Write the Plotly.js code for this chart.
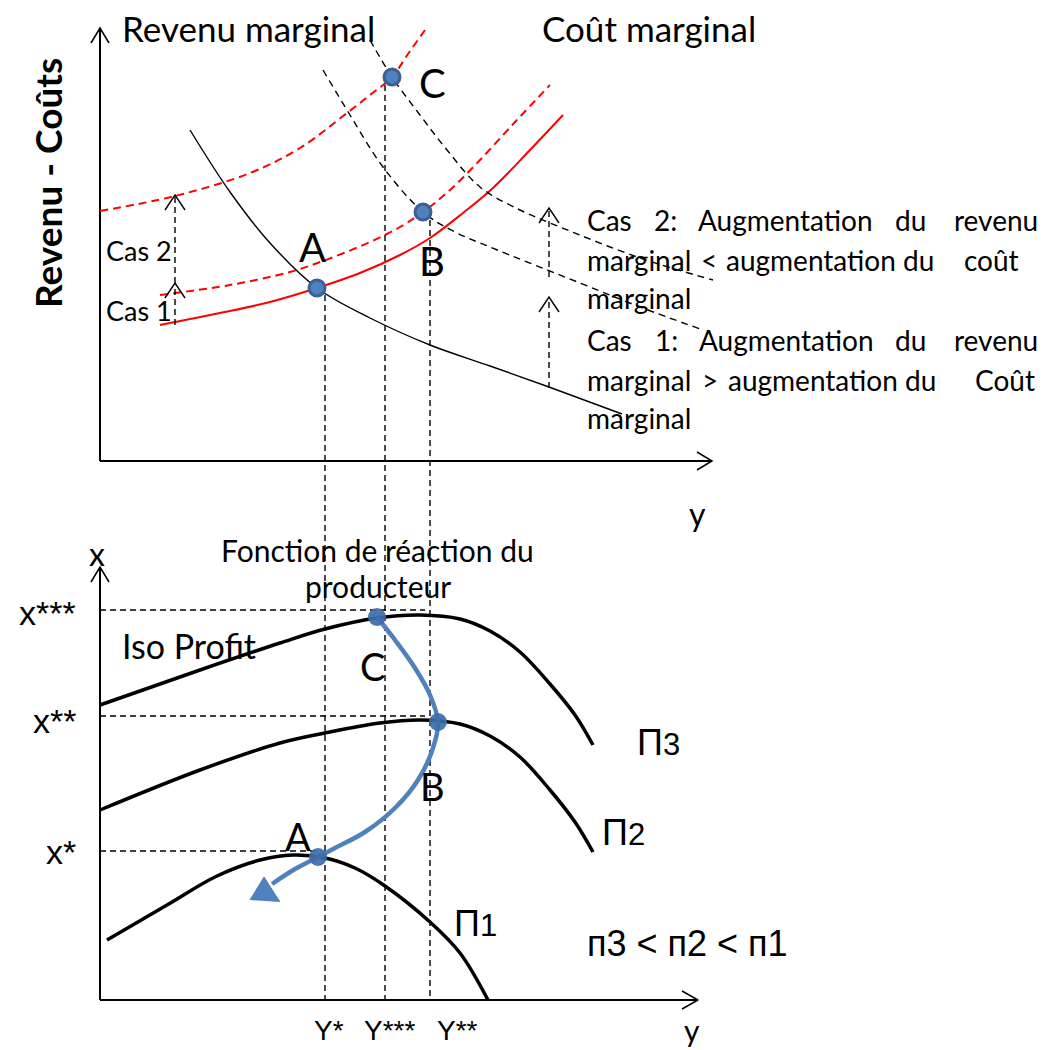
<!DOCTYPE html>
<html><head><meta charset="utf-8">
<script src="https://cdn.plot.ly/plotly-3.0.1.min.js"></script>
<style>html,body{margin:0;padding:0;background:#fff}#chart{width:1043px;height:1050px}</style>
</head><body><div id="chart"></div>
<script>
// ===== TOP PANEL : Revenu - Coûts (units measured from the axes corner) =====
const revMargX   = [90,130,170,217,270,330,390,449,522];
const revMargY   = [331,269,218,173,143,116,95,74,47];
const coutMargX  = [60,120,170,217,260,300,330,363,393,430,463];
const coutMargY  = [136,148,159,173,188,206,223,248,273,311,346];
const cas1CoutX  = [60,130,190,223,270,300,323,350,380,415,450];
const cas1CoutY  = [166,176,189,200,219,234,249,271,301,339,376];
const cas2CoutX  = [0,75,150,200,247,270,292,308,325];
const cas2CoutY  = [250,265,288,313,348,366,384,407,431];
const revB_X     = [223,250,283,323,355,390,480,540,603];
const revB_Y     = [391,346,294,249,229,214,178,154,131];
const revC_X     = [270,292,320,347,380,420,460,540,613];
const revC_Y     = [421,384,346,311,274,251,234,203,181];
const topPtNames = ["A","B","C"];
const topPtX     = [217,323,292];
const topPtY     = [173,249,384];
// dashed "Cas" arrows: [x, yFrom, yTo]
const casArrows  = [[75,136,178],[75,178,266],[449,73,164],[449,184,253]];

// ===== BOTTOM PANEL : x vs y =====
const pi3X = [0,100,180,225,277,320,360,390,420,450,475,493];
const pi3Y = [295,330,357,371,382,385,381,369,348,316,285,255];
const pi2X = [0,100,180,225,280,320,360,390,420,450,475,493];
const pi2Y = [190,230,257,267,277,280,276,264,243,210,178,148];
const pi1X = [7,67,117,160,193,225,255,285,330,360,388];
const pi1Y = [60,95,124,140,145,142,132,114,78,47,0];
const reactX = [277,295,315,330,338,333,318,295,265,235,218,195,172];
const reactY = [383,360,332,305,278,252,220,192,168,152,143,131,116];
const reactHeadX = [150,164,180];
const reactHeadY = [100,123,98];
const botPtX = [218,338,277];
const botPtY = [143,278,383];
const yTickLabels = ["Y*","Y***","Y**"];
const yTickPos    = [225,285,330];   // drop-line positions
const yTickLabelX = [229,289,357];
const yDropTop    = [705,915,780];   // where each drop line starts (bottom-panel units)
const xTickLabels = ["x***","x**","x*"];
const xTickPos    = [390,284,149];
const xTickLabelY = [387,279,148];
const xGuideEnd   = [325,325,218];

const BLK = "#000", RED = "#ff0000", BLUE = "#4f81bd";
const traces = [];
function line(x, y, ya, color, width, dash, shape) {
  traces.push({type:"scatter", mode:"lines", x, y, yaxis:ya, hoverinfo:"skip",
    line:{color, width, dash: dash||"solid", shape: shape||"linear", smoothing:1}});
}
function chevron(tx, ty, dir, ya, w, l, width) {
  if (dir === "up") line([tx-w, tx, tx+w], [ty-l, ty, ty-l], ya, BLK, width||1.5);
  else line([tx-l, tx, tx-l], [ty+w, ty, ty-w], ya, BLK, width||1.5);
}

// --- top axes
line([0,0],[0,433],"y",BLK,2); chevron(0,433,"up","y",9,15);
line([0,612],[0,0],"y",BLK,2); chevron(612,0,"right","y",9,15);
// --- top curves
line(cas2CoutX,cas2CoutY,"y",RED,2,"8px,5px","spline");
line(cas1CoutX,cas1CoutY,"y",RED,2,"8px,5px","spline");
line(coutMargX,coutMargY,"y",RED,2,"solid","spline");
line(revB_X,revB_Y,"y",BLK,1.4,"7px,5px","spline");
line(revC_X,revC_Y,"y",BLK,1.4,"7px,5px","spline");
line(revMargX,revMargY,"y",BLK,1.4,"solid","spline");
casArrows.forEach(a => { line([a[0],a[0]],[a[1],a[2]],"y",BLK,1.4,"6px,4px"); chevron(a[0],a[2],"up","y",10,15,1.4); });

// --- drop lines (bottom panel units, cross both panels)
yTickPos.forEach((p,i)=> line([p,p],[yDropTop[i],0],"y2",BLK,1.4,"6px,4px"));
xTickPos.forEach((p,i)=> line([0,xGuideEnd[i]],[p,p],"y2",BLK,1.4,"6px,4px"));

// --- bottom axes
line([0,0],[0,433],"y2",BLK,2); chevron(0,433,"up","y2",9,15);
line([0,598],[0,0],"y2",BLK,2); chevron(598,0,"right","y2",9,16);
// --- iso profit curves
line(pi3X,pi3Y,"y2",BLK,3.5,"solid","spline");
line(pi2X,pi2Y,"y2",BLK,3.5,"solid","spline");
line(pi1X,pi1Y,"y2",BLK,3.5,"solid","spline");
// --- reaction function
line(reactX,reactY,"y2",BLUE,4.5,"solid","spline");
traces.push({type:"scatter",mode:"lines",x:reactHeadX,y:reactHeadY,yaxis:"y2",fill:"toself",
  fillcolor:BLUE,line:{color:BLUE,width:1},hoverinfo:"skip"});
traces.push({type:"scatter",mode:"markers",x:botPtX,y:botPtY,yaxis:"y2",hoverinfo:"skip",
  marker:{size:18,color:"rgba(62,108,168,0.92)",line:{width:0}}});
traces.push({type:"scatter",mode:"markers",x:topPtX,y:topPtY,yaxis:"y",hoverinfo:"skip",
  marker:{size:16,color:BLUE,line:{width:3,color:"#3a6192"}}});

// ===== TEXT =====
const F = "Lato, 'Open Sans', sans-serif";
const A = "'Liberation Sans', Arial, sans-serif";
const ann = [];
function t(text, x, y, ya, size, xanchor, font, extra) {
  ann.push(Object.assign({text, x, y, xref:"x", yref:ya, showarrow:false,
    xanchor: xanchor||"center", yanchor:"middle",
    font:{family: font||F, size, color:"#000"}}, extra||{}));
}
// top
t("Revenu marginal",20,433,"y",35,"left");
t("Coût marginal",440,433,"y",35,"left");
t("C",332,378,"y",40); t("A",212,214,"y",40); t("B",332,200,"y",40);
t("Cas 2",4,211,"y",27,"left"); t("Cas 1",4,151,"y",27,"left");
t("y",597,-52,"y",32);
t("<b>Revenu - Coûts</b>",-53,278,"y",37,"center",F,{textangle:-90});
// justified note: [word, position, anchor]
const noteLines = [
  {y:241, w:[["Cas",485,"left"],["2:",565,"center"],["Augmentation",685,"center"],["du",810,"center"],["revenu",940,"right"]]},
  {y:201, w:[["marginal",485,"left"],["<",609,"center"],["augmentation",711,"center"],["du",818,"center"],["coût",921,"right"]]},
  {y:163, w:[["marginal",485,"left"]]},
  {y:121, w:[["Cas",485,"left"],["1:",566,"center"],["Augmentation",686,"center"],["du",810,"center"],["revenu",940,"right"]]},
  {y:81,  w:[["marginal",485,"left"],[">",610,"center"],["augmentation",713,"center"],["du",820,"center"],["Coût",937,"right"]]},
  {y:43,  w:[["marginal",485,"left"]]}
];
noteLines.forEach(L => L.w.forEach(w => t(w[0], w[1], L.y, "y", 28, w[2])));
// bottom
t("x",-3,447,"y2",32);
t("Fonction de réaction du",277,450,"y2",30);
t("producteur",278,414,"y2",30);
t("Iso Profit",20,355,"y2",34,"left");
t("C",272,334,"y2",38); t("B",332,214,"y2",38); t("A",198,164,"y2",38);
xTickLabels.forEach((s,i)=> t(s,-22,xTickLabelY[i],"y2",34,"right",A));
yTickLabels.forEach((s,i)=> t(s,yTickLabelX[i],-30,"y2",28,"center",A));
t("y",592,-30,"y2",30);
t("П<span style='font-size:31px'>3</span>",535,258,"y2",36,"left",A);
t("П<span style='font-size:31px'>2</span>",500,168,"y2",36,"left",A);
t("П<span style='font-size:31px'>1</span>",352,77,"y2",36,"left",A);
t("п3 &lt; п2 &lt; п1",485,57,"y2",36,"left",A);

const layout = {
  width:1043, height:1050, margin:{l:0,r:0,t:0,b:0}, showlegend:false,
  paper_bgcolor:"#fff", plot_bgcolor:"#fff",
  xaxis:{range:[-100,943], visible:false, fixedrange:true},
  yaxis:{range:[-589,461], visible:false, fixedrange:true},
  yaxis2:{range:[-50,1000], visible:false, overlaying:"y", fixedrange:true},
  annotations: ann
};
Plotly.newPlot("chart", traces, layout, {displayModeBar:false, staticPlot:true});
</script></body></html>
